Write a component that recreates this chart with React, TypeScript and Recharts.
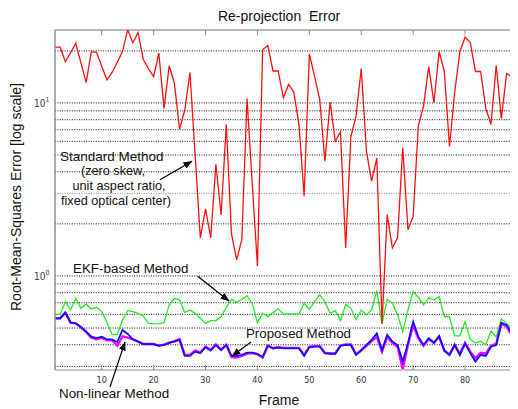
import React from 'react';
import { LineChart, Line, XAxis, YAxis, ReferenceLine } from 'recharts';

const frames: number[] = Array.from({ length: 91 }, (_, i) => i + 1);

const standardMethod = [
  21, 21, 17.3, 19.5, 22.1, 17, 13.1, 19.8, 19.6, 16.3,
  13.6, 15, 17.2, 19.8, 26.5, 22.3, 25.5, 17.9, 15.8, 14.2,
  19.4, 9.3, 16.4, 13, 7.05, 9.1, 15, 5, 1.66, 2.44,
  1.66, 4.42, 2.25, 7.5, 1.75, 1.24, 1.63, 10.6, 3.4, 1.14,
  20.3, 21.5, 15.3, 15.3, 10.7, 12.8, 11.6, 7.5, 2.89, 19.2,
  14.3, 10.5, 4.6, 10.1, 6.0, 6.8, 1.45, 6.4, 8.4, 15.8,
  5.26, 3.53, 4.8, 0.53, 2.26, 1.45, 1.66, 5.5, 1.85, 2.21,
  7.4, 9.6, 16.2, 10, 19.8, 15.2, 5.6, 11.5, 19.8, 24,
  22.4, 15.2, 15.2, 9.3, 7.5, 16.5, 8.1, 14.8, 14.2, 17.3, 19,
];

const ekfMethod = [
  0.6, 0.6, 0.71, 0.636, 0.743, 0.65, 0.689, 0.645, 0.659, 0.622,
  0.54, 0.458, 0.458, 0.557, 0.63, 0.622, 0.608, 0.587, 0.532, 0.528,
  0.53, 0.537, 0.68, 0.743, 0.727, 0.614, 0.636, 0.608, 0.569, 0.532,
  0.552, 0.552, 0.582, 0.659, 0.733, 0.705, 0.733, 0.766, 0.695, 0.537,
  0.608, 0.582, 0.614, 0.645, 0.603, 0.603, 0.603, 0.603, 0.695, 0.641,
  0.71, 0.777, 0.71, 0.608, 0.63, 0.552, 0.686, 0.65, 0.562, 0.636,
  0.595, 0.636, 0.822, 0.528, 0.733, 0.695, 0.595, 0.477, 0.636, 0.812,
  0.753, 0.68, 0.75, 0.725, 0.76, 0.582, 0.582, 0.45, 0.45, 0.545,
  0.43, 0.41, 0.42, 0.4, 0.48, 0.444, 0.564, 0.532, 0.495, 0.502, 0.51,
];

const nonLinearMethod = [
  0.569, 0.569, 0.614, 0.537, 0.532, 0.505, 0.477, 0.446, 0.437, 0.446,
  0.43, 0.43, 0.415, 0.487, 0.462, 0.43, 0.417, 0.404, 0.404, 0.404,
  0.394, 0.399, 0.41, 0.417, 0.427, 0.345, 0.345, 0.365, 0.358, 0.387,
  0.37, 0.399, 0.372, 0.399, 0.345, 0.345, 0.35, 0.36, 0.36, 0.355,
  0.339, 0.395, 0.381, 0.385, 0.381, 0.381, 0.381, 0.381, 0.345, 0.387,
  0.39, 0.39, 0.357, 0.355, 0.355, 0.394, 0.399, 0.399, 0.35, 0.372,
  0.399, 0.427, 0.466, 0.372, 0.456, 0.417, 0.399, 0.32, 0.408, 0.544,
  0.446, 0.399, 0.437, 0.41, 0.45, 0.372, 0.35, 0.399, 0.35, 0.408,
  0.358, 0.32, 0.35, 0.345, 0.39, 0.399, 0.537, 0.521, 0.466, 0.427, 0.41,
];

const proposedMethod = [
  0.569, 0.569, 0.614, 0.537, 0.532, 0.505, 0.475, 0.44, 0.43, 0.44,
  0.425, 0.425, 0.395, 0.448, 0.44, 0.43, 0.417, 0.404, 0.404, 0.404,
  0.396, 0.401, 0.412, 0.42, 0.432, 0.35, 0.35, 0.37, 0.362, 0.39,
  0.374, 0.402, 0.375, 0.4, 0.34, 0.338, 0.345, 0.356, 0.358, 0.352,
  0.338, 0.395, 0.383, 0.388, 0.384, 0.384, 0.384, 0.384, 0.35, 0.39,
  0.393, 0.393, 0.36, 0.357, 0.357, 0.396, 0.402, 0.402, 0.352, 0.372,
  0.395, 0.42, 0.445, 0.365, 0.445, 0.41, 0.39, 0.29, 0.4, 0.52,
  0.435, 0.395, 0.432, 0.41, 0.445, 0.37, 0.35, 0.4, 0.352, 0.41,
  0.365, 0.335, 0.36, 0.355, 0.395, 0.405, 0.53, 0.51, 0.455, 0.42, 0.405,
];

const xTicks = [10, 20, 30, 40, 50, 60, 70, 80, 90];
const yTicks = [1, 10];
const gridValues = [20, 10, 9, 8, 7, 6, 5, 4, 3, 2, 1, 0.9, 0.8, 0.7, 0.6, 0.5, 0.4, 0.3];
const yMin = 0.286;
const yMax = 26.4;

const rows = frames.map((f, i) => ({
  frame: f,
  standard: standardMethod[i],
  ekf: ekfMethod[i],
  nonlinear: nonLinearMethod[i],
  proposed: proposedMethod[i],
}));

const W = 510;
const H = 401;
const textFont = "'Liberation Sans', Arial, sans-serif";
const tickFont = "'Liberation Sans Narrow', 'DejaVu Sans Condensed', sans-serif";

const XTick = (p: any) => (
  <text x={p.x} y={p.y} dy="0.71em" textAnchor="middle" fontFamily={tickFont} fontSize={9} fill="#333">
    {p.payload.value}
  </text>
);

const YTick = (p: any) => {
  const exp = Math.round(Math.log10(p.payload.value));
  return (
    <text x={p.x} y={p.y + 4} textAnchor="end" fontFamily={tickFont} fill="#444">
      <tspan fontSize={10}>10</tspan>
      <tspan fontSize={7} dy={-5}>{exp}</tspan>
    </text>
  );
};

export default function App() {
  return (
    <div style={{ position: 'relative', width: W, height: H, overflow: 'hidden' }}>
      <LineChart width={W} height={H} data={rows} margin={{ top: 22, right: 0, bottom: 9, left: 0 }}>
        <XAxis
          dataKey="frame"
          type="number"
          domain={[1, 90.2]}
          allowDataOverflow
          ticks={xTicks}
          interval={0}
          height={30}
          tickSize={-5}
          tickMargin={12}
          axisLine={{ stroke: '#909090', strokeWidth: 1.2 }}
          tickLine={{ stroke: '#909090' }}
          tick={XTick}
        />
        <YAxis
          type="number"
          scale="log"
          domain={[yMin, yMax]}
          allowDataOverflow
          ticks={yTicks}
          interval={0}
          width={47}
          tickSize={0}
          tickMargin={5.5}
          tickLine={false}
          axisLine={{ stroke: '#909090', strokeWidth: 1.5 }}
          tick={YTick}
        />
        {gridValues.map((v) => (
          <ReferenceLine
            key={v}
            y={v}
            stroke={v === 3 ? '#888' : '#111'}
            strokeDasharray="1 1.4"
            strokeWidth={1}
            ifOverflow="hidden"
          />
        ))}
        <ReferenceLine y={yMax} stroke="#a0a0a0" strokeWidth={1.4} ifOverflow="visible" />
        {xTicks.map((t) => (
          <ReferenceLine
            key={'tt' + t}
            segment={[{ x: t, y: yMax }, { x: t, y: 24.6 }]}
            stroke="#909090"
            strokeWidth={1}
            ifOverflow="visible"
          />
        ))}
        <Line dataKey="ekf" stroke="#22ee22" strokeWidth={1.3} dot={false} isAnimationActive={false} />
        <Line dataKey="proposed" stroke="#ff00ff" strokeWidth={2.4} dot={false} isAnimationActive={false} />
        <Line dataKey="nonlinear" stroke="#1010ff" strokeWidth={1.8} dot={false} isAnimationActive={false} />
        <Line dataKey="standard" stroke="#ff1010" strokeWidth={1.3} dot={false} isAnimationActive={false} />
      </LineChart>
      <svg
        width={W}
        height={H}
        style={{ position: 'absolute', left: 0, top: 0, pointerEvents: 'none' }}
        fontFamily={textFont}
      >
        <defs>
          <marker id="ah" markerWidth="9" markerHeight="7" refX="8.5" refY="3.5" orient="auto" markerUnits="userSpaceOnUse">
            <path d="M0,0 L9,3.5 L0,7 z" fill="#000" />
          </marker>
        </defs>
        <text x={271} y={12.7} textAnchor="middle" fontSize={14} fill="#111" xmlSpace="preserve">
          Re-projection  Error
        </text>
        <text x={271} y={397} textAnchor="middle" fontSize={14} fill="#111">Frame</text>
        <text
          transform="translate(13,189) rotate(-90)"
          textAnchor="middle"
          fontSize={14}
          fill="#111"
        >
          Root-Mean-Squares Error [log scale]
        </text>

        <text x={52} y={152.5} fontSize={13.5} fill="#111">Standard Method</text>
        <text x={105} y={167} textAnchor="middle" fontSize={12.7} fill="#111">(zero skew,</text>
        <text x={111} y={181.5} textAnchor="middle" fontSize={12.7} fill="#111">unit aspect ratio,</text>
        <text x={108} y={197} textAnchor="middle" fontSize={12.7} fill="#111">fixed optical center)</text>
        <line x1={152} y1={171.7} x2={184} y2={153.3} stroke="#000" strokeWidth={1.2} markerEnd="url(#ah)" />

        <text x={65} y={265} fontSize={13.4} fill="#111">EKF-based Method</text>
        <line x1={189.7} y1={268.3} x2={221} y2={293} stroke="#000" strokeWidth={1.2} markerEnd="url(#ah)" />

        <text x={238} y={329.5} fontSize={13.3} fill="#111">Proposed Method</text>
        <line x1={243} y1={334} x2={224} y2={348} stroke="#000" strokeWidth={1.2} markerEnd="url(#ah)" />

        <text x={51} y={390} fontSize={13.4} fill="#111">Non-linear Method</text>
        <line x1={102} y1={379} x2={117} y2={334} stroke="#000" strokeWidth={1.2} markerEnd="url(#ah)" />
      </svg>
    </div>
  );
}
